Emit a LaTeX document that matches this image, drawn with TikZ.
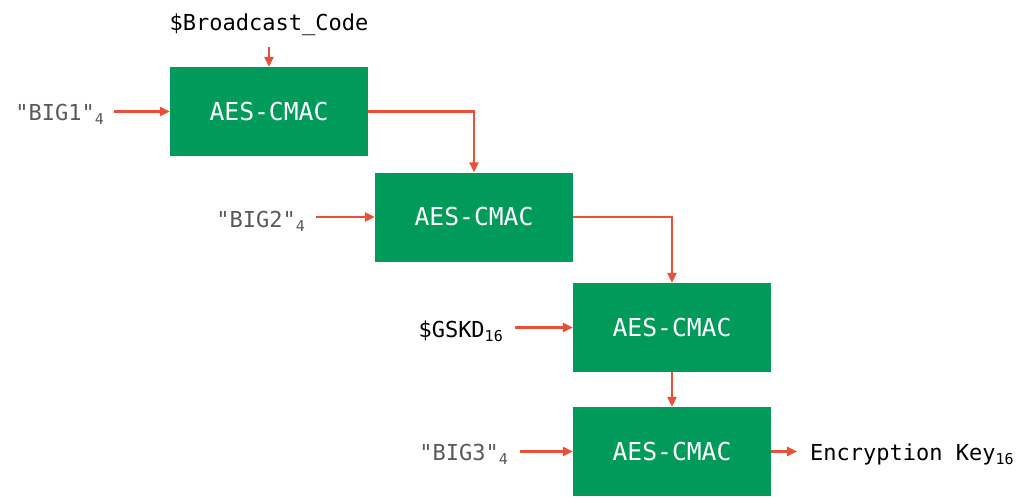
\documentclass[tikz,border=0pt]{standalone}
\usepackage{fontspec}
\setmonofont{DejaVu Sans Mono}
\usetikzlibrary{arrows.meta}
\definecolor{boxgreen}{RGB}{0,155,90}
\definecolor{arr}{RGB}{232,80,56}
\definecolor{lblgray}{RGB}{89,89,89}
\newcommand\subx[1]{\raisebox{-0.35ex}{\fontsize{15}{17}\selectfont #1}}
\tikzset{
  cmac/.style={fill=boxgreen, draw=none, minimum width=198pt, minimum height=89pt,
    text=white, font=\ttfamily\fontsize{24.7}{29}\selectfont, inner sep=0pt},
  lbl/.style={font=\ttfamily\fontsize{22}{26}\selectfont, inner sep=0pt, text=black},
  glbl/.style={lbl, text=lblgray},
  flow/.style={draw=arr, line width=2.4pt, -{Triangle[length=10pt,width=9pt]}},
}
\begin{document}
\begin{tikzpicture}[x=1pt,y=-1pt]
\useasboundingbox (0,0) rectangle (1024,498);
\node[cmac] (b1) at (269,111.5) {AES-CMAC};
\node[cmac] (b2) at (474,217) {AES-CMAC};
\node[cmac] (b3) at (672,327.5) {AES-CMAC};
\node[cmac] (b4) at (672,451.5) {AES-CMAC};

\node[lbl, anchor=base] (bc) at (269,30) {\$Broadcast\_Code};
\node[glbl, anchor=base east] (l1) at (104,120) {"BIG1"\subx{4}};
\node[glbl, anchor=base east] (l2) at (305,227) {"BIG2"\subx{4}};
\node[lbl, anchor=base east] (l3) at (503,337) {\$GSKD\subx{16}};
\node[glbl, anchor=base east] (l4) at (508,460) {"BIG3"\subx{4}};
\node[lbl, anchor=base west] (out) at (810,460) {Encryption Key\subx{16}};

\draw[flow] ([yshift=-12pt]bc.south -| b1.north) -- (b1.north);
\draw[flow] ([xshift=10pt]l1.east |- b1.west) -- (b1.west);
\draw[flow] (b1.east) -| (b2.north);
\draw[flow] ([xshift=11pt]l2.east |- b2.west) -- (b2.west);
\draw[flow] (b2.east) -| (b3.north);
\draw[flow] ([xshift=12pt]l3.east |- b3.west) -- (b3.west);
\draw[flow] (b3.south) -- (b4.north);
\draw[flow] ([xshift=12pt]l4.east |- b4.west) -- (b4.west);
\draw[flow] (b4.east) -- ([xshift=-13pt]out.west |- b4.east);
\end{tikzpicture}
\end{document}
